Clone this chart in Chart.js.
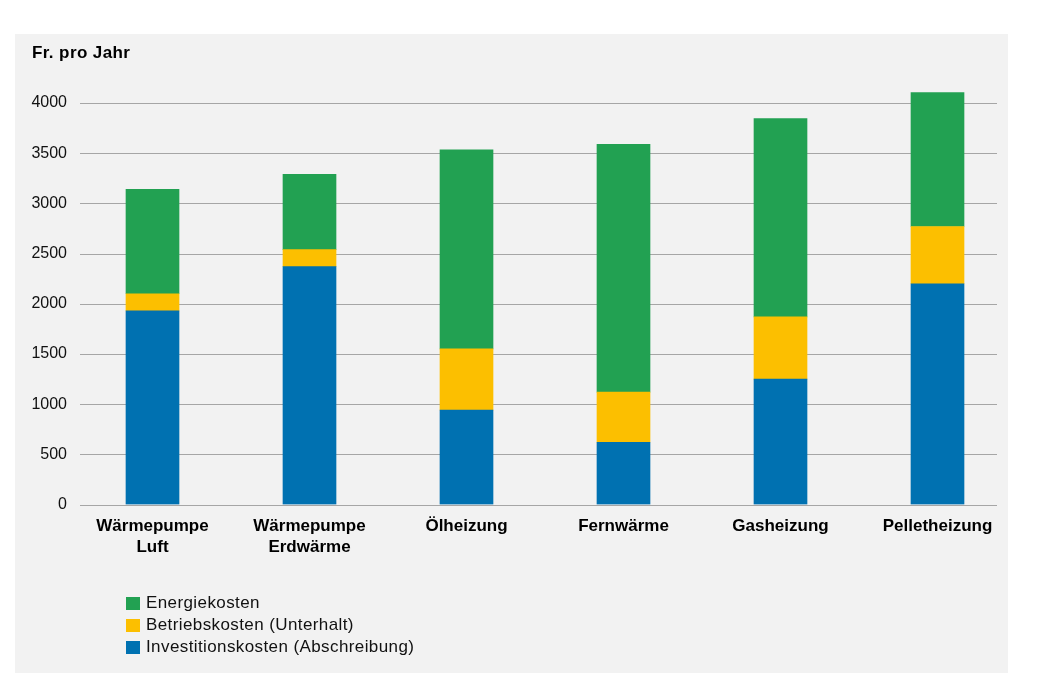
<!DOCTYPE html>
<html>
<head>
<meta charset="utf-8">
<script src="https://cdn.jsdelivr.net/npm/chart.js@4"></script>
<style>
    html, body { margin: 0; padding: 0; background: #ffffff; }
    #wrap { position: relative; width: 1040px; height: 679px; overflow: hidden; }
    #panel { position: absolute; left: 15px; top: 34px; width: 993px; height: 639px; background: #f2f2f2; }
    #costChart { position: absolute; left: 0; top: 0; }
    #legend { position: absolute; left: 126px; top: 592px; font-family: 'Liberation Sans', Arial, sans-serif; font-size: 17px; letter-spacing: 0.4px; color: #111; }
    #legend div { height: 22px; line-height: 22px; display: flex; align-items: center; }
    #legend span.box { display: inline-block; width: 14px; height: 13px; margin-right: 6px; }
</style>
</head>
<body>
<div id="wrap">
    <div id="panel"></div>
    <canvas id="costChart" width="1040" height="679"></canvas>
    <div id="legend"></div>
</div>
<script>
// Heizkosten pro Jahr, gestapelt
const categories = [
    ['Wärmepumpe', 'Luft'],
    ['Wärmepumpe', 'Erdwärme'],
    'Ölheizung',
    'Fernwärme',
    'Gasheizung',
    'Pelletheizung'
];
const investitionskosten = [1930, 2370, 940, 620, 1250, 2200];
const betriebskosten = [170, 170, 610, 500, 620, 570];
const energiekosten = [1040, 750, 1985, 2470, 1975, 1335];
const yTicks = [0, 500, 1000, 1500, 2000, 2500, 3000, 3500, 4000];

const FONT = "'Liberation Sans', Arial, Helvetica, sans-serif";

// horizontal grid lines, drawn only across the inner band of the panel
const gridPlugin = {
    id: 'panelGrid',
    beforeDatasetsDraw(chart) {
        const { ctx, scales: { y } } = chart;
        ctx.save();
        ctx.strokeStyle = '#a6a6a6';
        ctx.lineWidth = 1.2;
        y.ticks.forEach(t => {
            const py = Math.round(y.getPixelForValue(t.value)) + 0.5;
            ctx.beginPath();
            ctx.moveTo(80, py);
            ctx.lineTo(997, py);
            ctx.stroke();
        });
        ctx.restore();
    }
};

const unitLabel = {
    id: 'unitLabel',
    afterDraw(chart) {
        const ctx = chart.ctx;
        ctx.save();
        ctx.font = 'bold 17px ' + FONT;
        ctx.letterSpacing = '0.4px';
        ctx.fillStyle = '#000';
        ctx.textBaseline = 'middle';
        ctx.fillText('Fr. pro Jahr', 32, 53);
        ctx.restore();
    }
};

const chart = new Chart(document.getElementById('costChart'), {
    type: 'bar',
    data: {
        labels: categories,
        datasets: [
            { label: 'Investitionskosten (Abschreibung)', data: investitionskosten, backgroundColor: '#0071b1' },
            { label: 'Betriebskosten (Unterhalt)', data: betriebskosten, backgroundColor: '#fcbf00' },
            { label: 'Energiekosten', data: energiekosten, backgroundColor: '#22a152' }
        ]
    },
    options: {
        responsive: false,
        animation: false,
        layout: { padding: { top: 83, right: 24, bottom: 0, left: 0 } },
        datasets: { bar: { barThickness: 53, borderWidth: 0 } },
        scales: {
            x: {
                stacked: true,
                grid: { display: false, drawTicks: false },
                border: { display: false },
                ticks: {
                    color: '#000',
                    padding: 11,
                    maxRotation: 0,
                    autoSkip: false,
                    font: { family: FONT, size: 17, weight: 'bold', lineHeight: '21px' }
                },
                afterFit: scale => { scale.height = 174.5; }
            },
            y: {
                stacked: true,
                min: 0,
                max: 4200,
                grid: { display: false, drawTicks: false },
                border: { display: false },
                afterBuildTicks: scale => {
                    scale.ticks = yTicks.map(v => ({ value: v }));
                },
                ticks: {
                    color: '#111',
                    padding: 7,
                    font: { family: FONT, size: 16 },
                    callback: v => String(v)
                },
                afterFit: scale => { scale.width = 74; }
            }
        },
        plugins: {
            legend: { display: false },
            tooltip: { enabled: false }
        }
    },
    plugins: [gridPlugin, unitLabel]
});

// legend in reverse stacking order
const legendEl = document.getElementById('legend');
chart.data.datasets.slice().reverse().forEach(ds => {
    const row = document.createElement('div');
    row.innerHTML = '<span class="box" style="background:' + ds.backgroundColor + '"></span>' + ds.label;
    legendEl.appendChild(row);
});
</script>
</body>
</html>
